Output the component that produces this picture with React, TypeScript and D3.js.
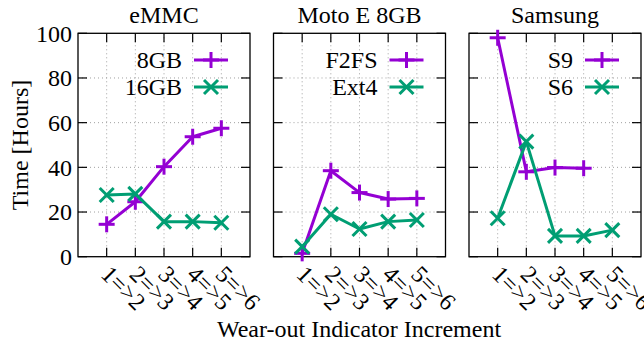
import React from 'react';
import * as d3 from 'd3';

const categories = ['1=>2', '2=>3', '3=>4', '4=>5', '5=>6'];
const yTicks = [0, 20, 40, 60, 80, 100];

const panelTitles = ['eMMC', 'Moto E 8GB', 'Samsung'];
const emmc8 = [14.5, 24.6, 40.3, 53.7, 57.5];
const emmc16 = [27.6, 28.1, 15.7, 15.7, 15.2];
const f2fs = [1.5, 38.5, 28.7, 25.8, 26.1];
const ext4 = [4.5, 19, 12.4, 15.7, 16.4];
const s9 = [98, 38, 39.9, 39.6, null];
const s6 = [17.2, 51.5, 9.3, 9.3, 11.9];

const seriesNames = [
  ['8GB', '16GB'],
  ['F2FS', 'Ext4'],
  ['S9', 'S6'],
];
const seriesValues = [
  [emmc8, emmc16],
  [f2fs, ext4],
  [s9, s6],
];

const PURPLE = '#9400d3';
const GREEN = '#009e73';
const FS = 24;
const txt = { fontFamily: "'Liberation Serif'", fontSize: FS };

const W = 644;
const H = 343;
const top = 33.3;
const bottom = 256.7;
const panelW = 172;
const panelLefts = [78, 273.5, 469];

const y = d3.scaleLinear().domain([0, 100]).range([bottom, top]);

function Plus({ x, y: cy, color }: { x: number; y: number; color: string }) {
  const s = 8;
  return (
    <g stroke={color} strokeWidth={3}>
      <line x1={x - s} x2={x + s} y1={cy} y2={cy} />
      <line x1={x} x2={x} y1={cy - s} y2={cy + s} />
    </g>
  );
}

function Cross({ x, y: cy, color }: { x: number; y: number; color: string }) {
  const s = 7;
  return (
    <g stroke={color} strokeWidth={3}>
      <line x1={x - s} x2={x + s} y1={cy - s} y2={cy + s} />
      <line x1={x - s} x2={x + s} y1={cy + s} y2={cy - s} />
    </g>
  );
}

function Panel({ idx }: { idx: number }) {
  const left = panelLefts[idx];
  const right = left + panelW;
  const x = d3.scaleLinear().domain([0, 6]).range([left, right]);
  const xs = categories.map((_, i) => i + 1);
  const colors = [PURPLE, GREEN];
  const line = d3
    .line<number | null>()
    .defined((d) => d != null)
    .x((_, i) => x(i + 1))
    .y((d) => y(d as number));

  return (
    <g>
      {/* grid */}
      <g stroke="#a0a0a0" strokeWidth={1} strokeDasharray="1,3">
        {xs.map((v) => (
          <line key={'gx' + v} x1={x(v)} x2={x(v)} y1={top} y2={bottom} />
        ))}
        {yTicks.slice(1, -1).map((v) => (
          <line key={'gy' + v} x1={left} x2={right} y1={y(v)} y2={y(v)} />
        ))}
      </g>
      {/* ticks */}
      <g stroke="#000" strokeWidth={1.2}>
        {xs.map((v) => (
          <g key={'tx' + v}>
            <line x1={x(v)} x2={x(v)} y1={bottom} y2={bottom - 9} />
            <line x1={x(v)} x2={x(v)} y1={top} y2={top + 9} />
          </g>
        ))}
        {yTicks.map((v) => (
          <g key={'ty' + v}>
            <line x1={left} x2={left + 9} y1={y(v)} y2={y(v)} />
            <line x1={right} x2={right - 9} y1={y(v)} y2={y(v)} />
          </g>
        ))}
      </g>
      <rect x={left} y={top} width={panelW} height={bottom - top} fill="none" stroke="#000" strokeWidth={1.3} />

      {/* title */}
      <text x={(left + right) / 2} y={23} textAnchor="middle" style={txt}>
        {panelTitles[idx]}
      </text>

      {/* x tick labels */}
      {categories.map((c, i) => (
        <text
          key={c}
          transform={`translate(${x(i + 1) - 7},${bottom + 19}) rotate(45)`}
          textAnchor="start"
          style={txt}
        >
          {c}
        </text>
      ))}

      {/* y tick labels on first panel */}
      {idx === 0 &&
        yTicks.map((v) => (
          <text key={'yl' + v} x={left - 6} y={y(v)} dy="0.35em" textAnchor="end" style={txt}>
            {v}
          </text>
        ))}

      {/* series */}
      {seriesValues[idx].map((vals, s) => (
        <g key={'s' + s}>
          <path d={line(vals) || ''} fill="none" stroke={colors[s]} strokeWidth={3} strokeLinejoin="round" />
          {vals.map((v, i) =>
            v == null ? null : s === 0 ? (
              <Plus key={i} x={x(i + 1)} y={y(v)} color={colors[s]} />
            ) : (
              <Cross key={i} x={x(i + 1)} y={y(v)} color={colors[s]} />
            )
          )}
        </g>
      ))}

      {/* legend */}
      {seriesNames[idx].map((name, s) => {
        const ly = 60 + s * 27;
        return (
          <g key={name}>
            <text x={right - 68} y={ly} dy="0.35em" textAnchor="end" style={txt}>
              {name}
            </text>
            <line x1={right - 56} x2={right - 22} y1={ly} y2={ly} stroke={colors[s]} strokeWidth={3} />
            {s === 0 ? (
              <Plus x={right - 39} y={ly} color={colors[s]} />
            ) : (
              <Cross x={right - 39} y={ly} color={colors[s]} />
            )}
          </g>
        );
      })}
    </g>
  );
}

export default function App() {
  return (
    <svg width={W} height={H} style={{ position: 'absolute', left: 0, top: 0, background: '#fff' }}>
      {panelTitles.map((_, i) => (
        <Panel key={i} idx={i} />
      ))}
      <text transform={`translate(28,${(top + bottom) / 2}) rotate(-90)`} textAnchor="middle" style={txt}>
        Time [Hours]
      </text>
      <text x={359} y={337} textAnchor="middle" style={txt}>
        Wear-out Indicator Increment
      </text>
    </svg>
  );
}
